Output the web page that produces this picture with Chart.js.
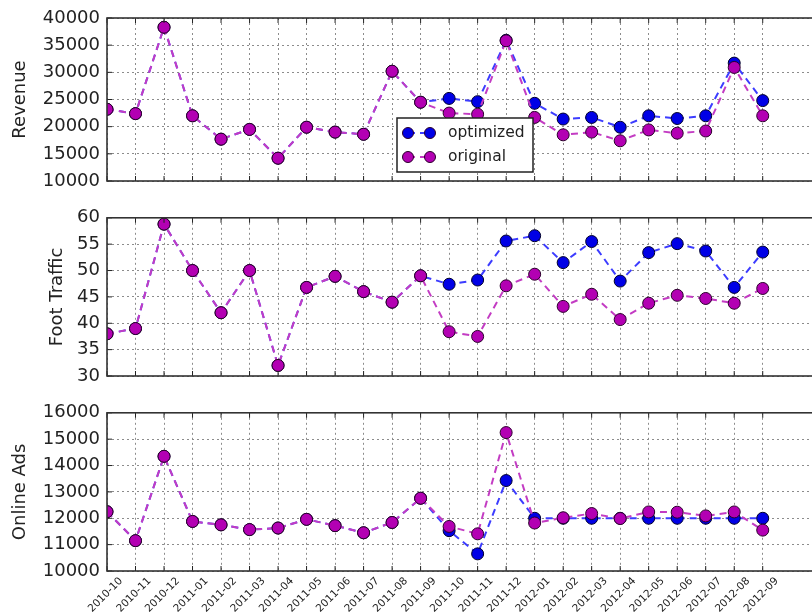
<!DOCTYPE html>
<html>
<head>
<meta charset="utf-8">
<script src="https://cdn.jsdelivr.net/npm/chart.js@4.4.1/dist/chart.umd.min.js"></script>
<style>
  html, body { margin: 0; padding: 0; background: #fff; overflow: hidden; }
  #figura { position: relative; width: 812px; height: 616px; overflow: hidden; background: #fff; }
  #figura canvas { position: absolute; left: 0; }
</style>
</head>
<body>
<div id="figura">
  <canvas id="panelRevenue" width="850" height="200" style="top:0px"></canvas>
  <canvas id="panelTraffic" width="850" height="195" style="top:200px"></canvas>
  <canvas id="panelAds" width="850" height="221" style="top:395px"></canvas>
</div>
<script>
// Meses del eje x
const meses = ["2010-10","2010-11","2010-12","2011-01","2011-02","2011-03","2011-04","2011-05",
  "2011-06","2011-07","2011-08","2011-09","2011-10","2011-11","2011-12","2012-01",
  "2012-02","2012-03","2012-04","2012-05","2012-06","2012-07","2012-08","2012-09"];

// Revenue
const revenueOriginal = [23200,22400,38300,22000,17700,19500,14200,19900,19000,18600,30200,24500,
  22500,22300,35800,21700,18500,19000,17400,19400,18800,19200,30900,22000];
const revenueOptimized = [23200,22400,38300,22000,17700,19500,14200,19900,19000,18600,30200,24500,
  25200,24600,35900,24300,21400,21700,19900,22000,21500,22000,31700,24800];

// Foot Traffic
const trafficOriginal = [38,39,58.8,50,42,50,32,46.8,48.9,46,44,49,
  38.4,37.5,47.1,49.3,43.2,45.5,40.7,43.8,45.3,44.7,43.8,46.6];
const trafficOptimized = [38,39,58.8,50,42,50,32,46.8,48.9,46,44,49,
  47.4,48.2,55.6,56.6,51.5,55.5,48,53.4,55.1,53.7,46.8,53.5];

// Online Ads
const adsOriginal = [12250,11150,14350,11880,11750,11570,11630,11960,11720,11450,11840,12760,
  11690,11410,15250,11820,12020,12180,11990,12240,12230,12090,12240,11550];
const adsOptimized = [12250,11150,14350,11880,11750,11570,11630,11960,11720,11450,11840,12760,
  11530,10650,13430,12000,12000,12000,12000,12000,12000,12000,12000,12000];

const fuente = "'DejaVu Sans', sans-serif";
const colorOriginal = "#b300b3";
const colorOptimized = "#0000e6";
const lineaOriginal = "#c33cc3";
const lineaOptimized = "#3c3cff";

function puntos(serie) {
  return serie.map((v, i) => ({ x: i, y: v }));
}

// Marco negro y marcas de ticks hacia adentro
const marcoPlugin = {
  id: "marco",
  afterDatasetsDraw(chart) {
    const { ctx, chartArea: a, scales } = chart;
    ctx.save();
    ctx.strokeStyle = "#222";
    ctx.lineWidth = 1;
    ctx.beginPath();
    scales.x.ticks.forEach(t => {
      const px = scales.x.getPixelForValue(t.value);
      ctx.moveTo(px, a.bottom); ctx.lineTo(px, a.bottom - 5);
      ctx.moveTo(px, a.top); ctx.lineTo(px, a.top + 5);
    });
    scales.y.ticks.forEach(t => {
      const py = scales.y.getPixelForValue(t.value);
      ctx.moveTo(a.left, py); ctx.lineTo(a.left + 5, py);
      ctx.moveTo(a.right, py); ctx.lineTo(a.right - 5, py);
    });
    ctx.stroke();
    ctx.lineWidth = 1.6;
    ctx.strokeStyle = "#333";
    ctx.strokeRect(a.left, a.top, a.right - a.left, a.bottom - a.top);
    ctx.restore();
  }
};

// Leyenda dentro del panel superior
const leyendaPlugin = {
  id: "leyenda",
  afterDraw(chart) {
    const ctx = chart.ctx;
    const x = 397, y = 118, w = 136, h = 54;
    const entradas = [
      { texto: "optimized", color: colorOptimized, linea: lineaOptimized },
      { texto: "original", color: colorOriginal, linea: lineaOriginal }
    ];
    ctx.save();
    ctx.fillStyle = "#fff";
    ctx.fillRect(x, y, w, h);
    ctx.strokeStyle = "#222";
    ctx.lineWidth = 1.5;
    ctx.strokeRect(x, y, w, h);
    entradas.forEach((e, i) => {
      const cy = y + 15 + i * 24;
      ctx.strokeStyle = e.linea;
      ctx.lineWidth = 2;
      ctx.setLineDash([7, 5]);
      ctx.beginPath();
      ctx.moveTo(x + 11, cy); ctx.lineTo(x + 33, cy);
      ctx.stroke();
      ctx.setLineDash([]);
      [x + 11, x + 33].forEach(cx => {
        ctx.beginPath();
        ctx.arc(cx, cy, 5.5, 0, Math.PI * 2);
        ctx.fillStyle = e.color;
        ctx.fill();
        ctx.lineWidth = 1;
        ctx.strokeStyle = "#2a002a";
        ctx.stroke();
      });
      ctx.fillStyle = "#222";
      ctx.font = "15.5px " + fuente;
      ctx.textBaseline = "middle";
      ctx.fillText(e.texto, x + 51, cy);
    });
    ctx.restore();
  }
};

function crearPanel(id, titulo, original, optimizado, yMin, yMax, paso, cfg) {
  const ctx = document.getElementById(id).getContext("2d");
  const plugins = [marcoPlugin];
  if (cfg.leyenda) plugins.push(leyendaPlugin);

  return new Chart(ctx, {
    type: "line",
    data: {
      datasets: [
        {
          label: "original", data: puntos(original),
          borderColor: lineaOriginal, borderWidth: 2, borderDash: [7, 5],
          pointRadius: 6, pointBackgroundColor: colorOriginal, pointBorderColor: "#2a002a",
          pointBorderWidth: 1, clip: 0, tension: 0
        },
        {
          label: "optimized", data: puntos(optimizado),
          borderColor: lineaOptimized, borderWidth: 2, borderDash: [7, 5],
          pointRadius: 6, pointBackgroundColor: colorOptimized, pointBorderColor: "#00002a",
          pointBorderWidth: 1, clip: 0, tension: 0
        }
      ]
    },
    options: {
      responsive: false,
      animation: false,
      layout: { padding: { top: cfg.arriba, left: 0, right: 16, bottom: 0 } },
      plugins: { legend: { display: false }, tooltip: { enabled: false } },
      scales: {
        x: {
          type: "linear", min: 0, max: 25.5,
          afterBuildTicks: ax => { ax.ticks = meses.map((m, i) => ({ value: i })); },
          afterFit: ax => { ax.height = cfg.altoX; },
          ticks: {
            display: cfg.etiquetasX, autoSkip: false, minRotation: 45, maxRotation: 45,
            padding: 4, labelOffset: 14, color: "#222", font: { family: fuente, size: 10.5 },
            callback: v => meses[v]
          },
          grid: { color: "#8c8c8c", lineWidth: 1, drawTicks: false },
          border: { display: false, dash: [2, 3] }
        },
        y: {
          min: yMin, max: yMax,
          afterFit: ax => { ax.width = 107; },
          ticks: {
            stepSize: paso, padding: 7, color: "#222",
            font: { family: fuente, size: 18 },
            callback: v => String(v)
          },
          grid: { color: "#8c8c8c", lineWidth: 1, drawTicks: false },
          border: { display: false, dash: [2, 3] },
          title: {
            display: true, text: titulo, color: "#222",
            font: { family: fuente, size: 18 },
            padding: { top: cfg.tituloPad, bottom: 0 }
          }
        }
      }
    },
    plugins
  });
}

crearPanel("panelRevenue", "Revenue", revenueOriginal, revenueOptimized, 10000, 40000, 5000,
  { arriba: 18, altoX: 19, etiquetasX: false, tituloPad: 10, leyenda: true });
crearPanel("panelTraffic", "Foot Traffic", trafficOriginal, trafficOptimized, 30, 60, 5,
  { arriba: 12, altoX: 19, etiquetasX: false, tituloPad: 47, leyenda: false });
crearPanel("panelAds", "Online Ads", adsOriginal, adsOptimized, 10000, 16000, 1000,
  { arriba: 13, altoX: 45, etiquetasX: true, tituloPad: 10, leyenda: false });
</script>
</body>
</html>
